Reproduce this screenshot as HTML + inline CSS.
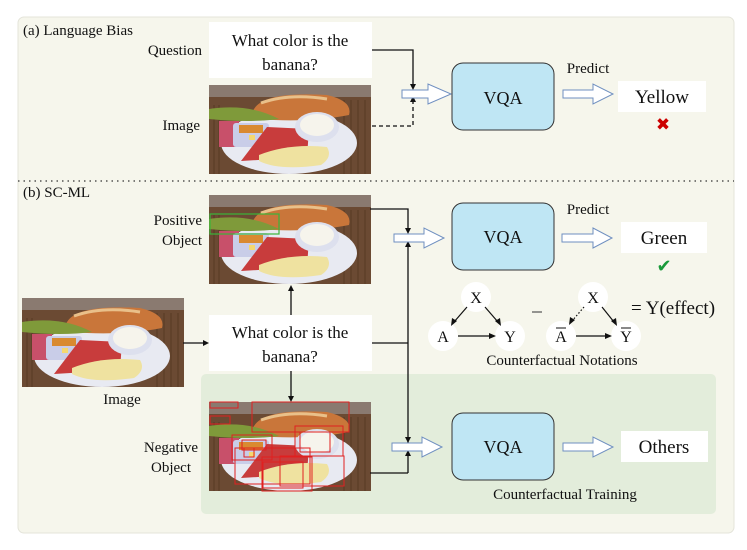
<!DOCTYPE html>
<html><head><meta charset="utf-8"><style>
html,body{margin:0;padding:0;background:#fff;}
svg text{font-family:"Liberation Serif",serif;fill:#111;}
</style></head><body>
<svg width="747" height="545" viewBox="0 0 747 545" xmlns="http://www.w3.org/2000/svg">
<defs>
<g id="food">
  <rect x="0" y="0" width="162" height="89" fill="#6b4a33"/>
  <rect x="0" y="0" width="162" height="12" fill="#8a7a70"/>
  <g stroke="#4a2e1a" stroke-width="1" opacity="0.6">
    <line x1="135" y1="15" x2="135" y2="89"/><line x1="142" y1="15" x2="142" y2="89"/><line x1="149" y1="15" x2="149" y2="89"/><line x1="156" y1="15" x2="156" y2="89"/>
    <line x1="5" y1="20" x2="5" y2="89"/><line x1="10" y1="20" x2="10" y2="89"/>
  </g>
  <ellipse cx="80" cy="58" rx="68" ry="31" fill="#e8eaf2"/>
  <path d="M44 26 Q52 6 118 10 Q144 16 140 30 Q100 38 48 34 Z" fill="#c9763a"/>
  <path d="M52 18 Q80 8 118 14" stroke="#e9c08a" stroke-width="3" fill="none"/>
  <path d="M0 24 Q40 18 70 34 Q40 38 0 34 Z" fill="#7f9a3a"/>
  <rect x="10" y="36" width="20" height="26" fill="#c8506a"/>
  <rect x="24" y="38" width="36" height="24" rx="3" fill="#c9cde8"/>
  <rect x="30" y="40" width="24" height="8" fill="#d98a30"/>
  <rect x="40" y="50" width="6" height="5" fill="#f4d870"/>
  <path d="M58 42 L100 44 L98 72 L32 76 Z" fill="#c83c3c"/>
  <ellipse cx="108" cy="42" rx="22" ry="15" fill="#dde0ee"/>
  <ellipse cx="108" cy="40" rx="17" ry="11" fill="#f6f4ec"/>
  <path d="M50 70 Q80 58 118 62 Q124 72 112 80 Q70 86 50 76 Z" fill="#efe2a0"/>
</g>
</defs>

<rect x="18" y="17" width="716" height="516" rx="6" fill="#f6f6ec" stroke="#e4e4da"/>
<line x1="18" y1="181" x2="734" y2="181" stroke="#333" stroke-width="1.3" stroke-dasharray="1.5,4"/>
<rect x="201" y="374" width="515" height="140" rx="5" fill="#e3eddb"/>

<text x="23" y="35" font-size="15">(a) Language Bias</text>
<rect x="209" y="22" width="163" height="56" fill="#fff"/>
<text x="290" y="46" font-size="17" text-anchor="middle">What color is the</text>
<text x="290" y="70" font-size="17" text-anchor="middle">banana?</text>
<text x="202" y="55" font-size="15" text-anchor="end">Question</text>
<use href="#food" x="209" y="85"/>
<text x="200" y="130" font-size="15" text-anchor="end">Image</text>
<polyline points="372,50 413,50 413,84" fill="none" stroke="#111" stroke-width="1.3"/>
<polygon points="410,84 416,84 413,90" fill="#111"/>
<polyline points="372,126 413,126 413,102" fill="none" stroke="#111" stroke-width="1.3" stroke-dasharray="4,3"/>
<polygon points="410,102 416,102 413,96" fill="#111"/>
<path d="M402 90 H428 V84 L451 94 L428 104 V98 H402 Z" fill="#fff" stroke="#6f8fc0"/>
<rect x="452" y="63" width="102" height="67" rx="11" fill="#bfe6f4" stroke="#333"/>
<text x="503" y="104" font-size="18" text-anchor="middle">VQA</text>
<path d="M563 90 H593 V84 L613 94 L593 104 V98 H563 Z" fill="#fff" stroke="#6f8fc0"/>
<text x="588" y="73" font-size="15" text-anchor="middle">Predict</text>
<rect x="618" y="81" width="88" height="31" fill="#fff"/>
<text x="662" y="103" font-size="19" text-anchor="middle">Yellow</text>
<text x="663" y="130" font-size="17" text-anchor="middle" style="fill:#c00">✖</text>

<text x="23" y="197" font-size="15">(b) SC-ML</text>
<use href="#food" x="209" y="195"/>
<rect x="210" y="214" width="69" height="20" fill="none" stroke="#3ab53a" stroke-width="1.2"/>
<text x="202" y="225" font-size="15" text-anchor="end">Positive</text>
<text x="202" y="245" font-size="15" text-anchor="end">Object</text>
<use href="#food" x="22" y="298"/>
<text x="122" y="404" font-size="15" text-anchor="middle">Image</text>
<line x1="183" y1="343" x2="204" y2="343" stroke="#111" stroke-width="1.3"/>
<polygon points="203,340 209,343 203,346" fill="#111"/>
<rect x="209" y="315" width="163" height="56" fill="#fff"/>
<text x="290" y="338" font-size="17" text-anchor="middle">What color is the</text>
<text x="290" y="362" font-size="17" text-anchor="middle">banana?</text>
<line x1="291" y1="315" x2="291" y2="290" stroke="#111" stroke-width="1.3"/>
<polygon points="288,291 294,291 291,285" fill="#111"/>
<line x1="291" y1="371" x2="291" y2="397" stroke="#111" stroke-width="1.3"/>
<polygon points="288,396 294,396 291,402" fill="#111"/>
<use href="#food" x="209" y="402"/>
<g fill="none" stroke="#e02020" stroke-width="1">
  <rect x="252" y="402" width="97" height="30"/><rect x="232" y="435" width="40" height="25"/>
  <rect x="242" y="440" width="24" height="10"/><rect x="244" y="448" width="10" height="9"/>
  <rect x="235" y="448" width="75" height="36"/><rect x="262" y="457" width="50" height="34"/>
  <rect x="263" y="462" width="40" height="26"/><rect x="295" y="426" width="48" height="30"/>
  <rect x="300" y="432" width="30" height="20"/><rect x="280" y="456" width="64" height="30"/>
  <rect x="210" y="402" width="28" height="6"/><rect x="210" y="416" width="20" height="8"/>
</g>
<text x="198" y="452" font-size="15" text-anchor="end">Negative</text>
<text x="191" y="472" font-size="15" text-anchor="end">Object</text>
<polyline points="370,209 408,209 408,228" fill="none" stroke="#111" stroke-width="1.3"/>
<polygon points="405,228 411,228 408,234" fill="#111"/>
<line x1="408" y1="473" x2="408" y2="246" stroke="#111" stroke-width="1.3"/>
<polygon points="405,247 411,247 408,241" fill="#111"/>
<line x1="372" y1="343" x2="408" y2="343" stroke="#111" stroke-width="1.3"/>
<polygon points="405,437 411,437 408,443" fill="#111"/>
<polygon points="405,456 411,456 408,450" fill="#111"/>
<polyline points="370,473 408,473" fill="none" stroke="#111" stroke-width="1.3"/>
<path d="M394 234 H424 V228 L444 238 L424 248 V242 H394 Z" fill="#fff" stroke="#6f8fc0"/>
<path d="M392 443 H422 V437 L442 447 L422 457 V451 H392 Z" fill="#fff" stroke="#6f8fc0"/>
<rect x="452" y="203" width="102" height="67" rx="11" fill="#bfe6f4" stroke="#333"/>
<text x="503" y="243" font-size="18" text-anchor="middle">VQA</text>
<path d="M562 234 H593 V228 L612 238 L593 248 V242 H562 Z" fill="#fff" stroke="#6f8fc0"/>
<text x="588" y="214" font-size="15" text-anchor="middle">Predict</text>
<rect x="621" y="222" width="86" height="31" fill="#fff"/>
<text x="664" y="244" font-size="19" text-anchor="middle">Green</text>
<text x="664" y="272" font-size="18" text-anchor="middle" style="fill:#1a9a3a">✔</text>
<rect x="452" y="413" width="102" height="67" rx="11" fill="#bfe6f4" stroke="#333"/>
<text x="503" y="453" font-size="18" text-anchor="middle">VQA</text>
<path d="M563 443 H593 V437 L613 447 L593 457 V451 H563 Z" fill="#fff" stroke="#6f8fc0"/>
<rect x="621" y="431" width="87" height="31" fill="#fff"/>
<text x="664" y="453" font-size="19" text-anchor="middle">Others</text>
<text x="565" y="499" font-size="15" text-anchor="middle">Counterfactual Training</text>

<g fill="#fff">
<circle cx="476" cy="297" r="15"/><circle cx="443" cy="336" r="15"/><circle cx="510" cy="336" r="15"/>
<circle cx="593" cy="297" r="15"/><circle cx="561" cy="336" r="15"/><circle cx="626" cy="336" r="15"/>
</g>
<g font-size="16" text-anchor="middle">
<text x="476" y="303">X</text><text x="443" y="342">A</text><text x="510" y="342">Y</text>
<text x="593" y="303">X</text><text x="561" y="342">A</text><text x="626" y="342">Y</text>
</g>
<line x1="556" y1="328" x2="566" y2="328" stroke="#111"/><line x1="621" y1="328" x2="631" y2="328" stroke="#111"/>
<g stroke="#111" stroke-width="1.2" fill="none">
<line x1="467" y1="307" x2="454" y2="322"/><line x1="485" y1="307" x2="498" y2="322"/>
<line x1="458" y1="336" x2="491" y2="336"/>
<line x1="584" y1="307" x2="572" y2="321" stroke-dasharray="1.5,2"/><line x1="602" y1="307" x2="614" y2="322"/>
<line x1="576" y1="336" x2="607" y2="336"/>
</g>
<g fill="#111">
<polygon points="451,326 452,318 457,321"/><polygon points="501,326 495,321 500,318"/>
<polygon points="496,336 489,333 489,339"/>
<polygon points="569,325 570,317 575,320"/><polygon points="617,326 611,321 616,318"/>
<polygon points="612,336 605,333 605,339"/>
</g>
<line x1="532" y1="312" x2="542" y2="312" stroke="#333"/>
<text x="631" y="314" font-size="19">= Y(effect)</text>
<text x="562" y="365" font-size="15" text-anchor="middle">Counterfactual Notations</text>
</svg>
</body></html>
